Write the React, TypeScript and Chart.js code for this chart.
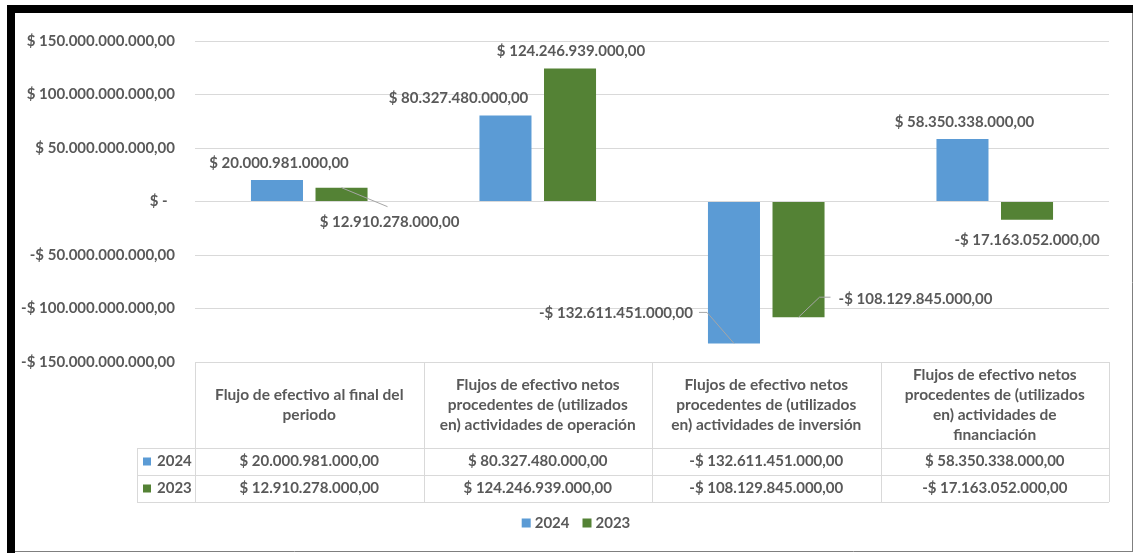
import React, { useEffect, useRef } from "react";
import { Chart, registerables } from "chart.js";

Chart.register(...registerables);

// ---------- DATA ----------
const categories: string[][] = [
  ["Flujo de efectivo al final del", "periodo"],
  ["Flujos de efectivo netos", "procedentes de (utilizados", "en) actividades de operación"],
  ["Flujos de efectivo netos", "procedentes de (utilizados", "en) actividades de inversión"],
  ["Flujos de efectivo netos", "procedentes de (utilizados", "en) actividades de", "financiación"],
];
const seriesNames = ["2024", "2023"];
const values2024 = [20000981000, 80327480000, -132611451000, 58350338000];
const values2023 = [12910278000, 124246939000, -108129845000, -17163052000];
const yMin = -150000000000;
const yMax = 150000000000;
const yStep = 50000000000;

// ---------- STYLE ----------
const COLORS = ["#5B9BD5", "#548235"];
const TEXT = "#595959";
const GRID = "#D9D9D9";
const FONT_FAMILY = "Lato";
const NUM_SIZE = 15;
const HEAD_SIZE = 15.5;
const NUM_FONT = `bold ${NUM_SIZE}px ${FONT_FAMILY}`;
const HEAD_FONT = `bold ${HEAD_SIZE}px ${FONT_FAMILY}`;

// label placement relative to bar end (dx, dy) and leader polylines
const labelOffsets: number[][][] = [
  [[2, -17], [-47, -17], [-118, -30], [2, -17]],
  [[48, 34], [1, -17], [117, -18], [0, 20]],
];
const leaders: (number[][] | null)[][] = [
  [null, null, [[-35, -31], [-27, -31], [0, 0]], null],
  [[[0, 0], [46, 19]], null, [[0, 0], [21, -20], [32, -20]], null],
];

function formatMoney(v: number): string {
  if (v === 0) return "$ -  ";
  const neg = v < 0;
  const s = Math.round(Math.abs(v)).toString().replace(/\B(?=(\d{3})+(?!\d))/g, ".");
  return (neg ? "-$ " : "$ ") + s + ",00";
}

const HEADER_H = 86;
const ROW_H = 27;
const KEY_W = 58;

const framePlugin = {
  id: "frame",
  beforeDraw(chart: any) {
    const ctx = chart.ctx;
    const W = chart.width;
    const H = chart.height;
    ctx.save();
    ctx.fillStyle = "#FFFFFF";
    ctx.fillRect(0, 0, W, H);
    ctx.strokeStyle = "#7F7F7F";
    ctx.lineWidth = 1;
    ctx.beginPath();
    ctx.moveTo(1132.5, 13);
    ctx.lineTo(1132.5, 552);
    ctx.moveTo(15, 551.5);
    ctx.lineTo(1133, 551.5);
    ctx.stroke();
    ctx.restore();
  },
  afterDraw(chart: any) {
    const ctx = chart.ctx;
    const W = chart.width;
    const H = chart.height;
    ctx.save();
    ctx.fillStyle = "#000000";
    ctx.fillRect(7, 5, 8, H - 5);
    ctx.fillRect(7, 5, W - 8, 8);
    ctx.restore();
  },
};

const labelsPlugin = {
  id: "barLabels",
  afterDatasetsDraw(chart: any) {
    const ctx = chart.ctx;
    ctx.save();
    ctx.font = NUM_FONT;
    ctx.fillStyle = TEXT;
    ctx.textAlign = "center";
    ctx.textBaseline = "middle";
    chart.data.datasets.forEach((ds: any, i: number) => {
      const meta = chart.getDatasetMeta(i);
      meta.data.forEach((bar: any, j: number) => {
        const { x, y } = bar.getProps(["x", "y"], true);
        const lead = leaders[i][j];
        if (lead) {
          ctx.strokeStyle = "#A6A6A6";
          ctx.lineWidth = 1;
          ctx.beginPath();
          lead.forEach((p, k) => {
            if (k === 0) ctx.moveTo(x + p[0], y + p[1]);
            else ctx.lineTo(x + p[0], y + p[1]);
          });
          ctx.stroke();
        }
        const off = labelOffsets[i][j];
        ctx.fillText(formatMoney(ds.data[j]), x + off[0], y + off[1]);
      });
    });
    ctx.restore();
  },
};

const tablePlugin = {
  id: "dataTable",
  afterDraw(chart: any) {
    const ctx = chart.ctx;
    const area = chart.chartArea;
    const xs = chart.scales.x;
    const n = chart.data.labels.length;
    const colW = (area.right - area.left) / n;
    const top = area.bottom;
    const r1 = top + HEADER_H;
    const r2 = r1 + ROW_H;
    const r3 = r2 + ROW_H;
    const keyL = area.left - KEY_W;
    ctx.save();
    ctx.strokeStyle = GRID;
    ctx.lineWidth = 1;
    ctx.beginPath();
    for (let k = 0; k <= n; k++) {
      const x = Math.round(area.left + k * colW) + 0.5;
      ctx.moveTo(x, top);
      ctx.lineTo(x, r3);
    }
    ctx.moveTo(keyL + 0.5, r1);
    ctx.lineTo(keyL + 0.5, r3);
    [r1, r2, r3].forEach((yy) => {
      ctx.moveTo(keyL, Math.round(yy) + 0.5);
      ctx.lineTo(area.right, Math.round(yy) + 0.5);
    });
    ctx.stroke();

    ctx.fillStyle = TEXT;
    ctx.textAlign = "center";
    ctx.textBaseline = "middle";
    ctx.font = HEAD_FONT;
    const lh = 20.3;
    categories.forEach((lines, i) => {
      const cx = xs.getPixelForValue(i);
      const cy = top + HEADER_H / 2;
      const y0 = cy - ((lines.length - 1) * lh) / 2;
      lines.forEach((ln, k) => ctx.fillText(ln, cx, y0 + k * lh));
    });
    ctx.font = NUM_FONT;
    chart.data.datasets.forEach((ds: any, s: number) => {
      const cy = r1 + ROW_H * s + ROW_H / 2;
      ds.data.forEach((v: number, i: number) => {
        ctx.fillText(formatMoney(v), xs.getPixelForValue(i), cy);
      });
      ctx.fillStyle = COLORS[s];
      ctx.fillRect(keyL + 6, cy - 4, 8, 8);
      ctx.fillStyle = TEXT;
      ctx.textAlign = "left";
      ctx.fillText(ds.label, keyL + 20, cy);
      ctx.textAlign = "center";
    });

    // bottom legend
    const ly = 523;
    ctx.textAlign = "left";
    const widths = seriesNames.map((s) => ctx.measureText(s).width);
    const box = 9;
    const gapIn = 4;
    const gapOut = 13;
    const total = widths.reduce((a, w) => a + box + gapIn + w, 0) + gapOut * (seriesNames.length - 1);
    let lx = 576 - total / 2;
    seriesNames.forEach((s, k) => {
      ctx.fillStyle = COLORS[k];
      ctx.fillRect(lx, ly - 4.5, box, box);
      lx += box + gapIn;
      ctx.fillStyle = TEXT;
      ctx.fillText(s, lx, ly);
      lx += widths[k] + gapOut;
    });
    ctx.restore();
  },
};

export default function App() {
  const ref = useRef<HTMLCanvasElement | null>(null);
  useEffect(() => {
    if (!ref.current) return;
    const chart = new Chart(ref.current, {
      type: "bar",
      data: {
        labels: categories.map((c) => c.join(" ")),
        datasets: [
          { label: seriesNames[0], data: values2024, backgroundColor: COLORS[0], barPercentage: 0.806, categoryPercentage: 0.565 },
          { label: seriesNames[1], data: values2023, backgroundColor: COLORS[1], barPercentage: 0.806, categoryPercentage: 0.565 },
        ],
      },
      options: {
        responsive: false,
        maintainAspectRatio: false,
        animation: false,
        devicePixelRatio: 1,
        layout: { padding: { left: 15, top: 41, right: 25, bottom: 191 } },
        plugins: { legend: { display: false }, tooltip: { enabled: false } },
        scales: {
          x: { display: false },
          y: {
            min: yMin,
            max: yMax,
            afterFit: (scale: any) => {
              scale.width = 180;
            },
            grid: { color: GRID, drawTicks: false, lineWidth: 1 },
            border: { display: false },
            ticks: {
              stepSize: yStep,
              padding: 20,
              color: TEXT,
              font: { family: FONT_FAMILY, size: NUM_SIZE, weight: "bold" },
              callback: (v: any) => formatMoney(Number(v)),
            },
          },
        },
      },
      plugins: [framePlugin, labelsPlugin, tablePlugin],
    });
    return () => chart.destroy();
  }, []);
  return (
    <div style={{ position: "fixed", left: 0, top: 0, width: 1134, height: 553, background: "#fff" }}>
      <canvas ref={ref} width={1134} height={553} style={{ display: "block" }} />
    </div>
  );
}
